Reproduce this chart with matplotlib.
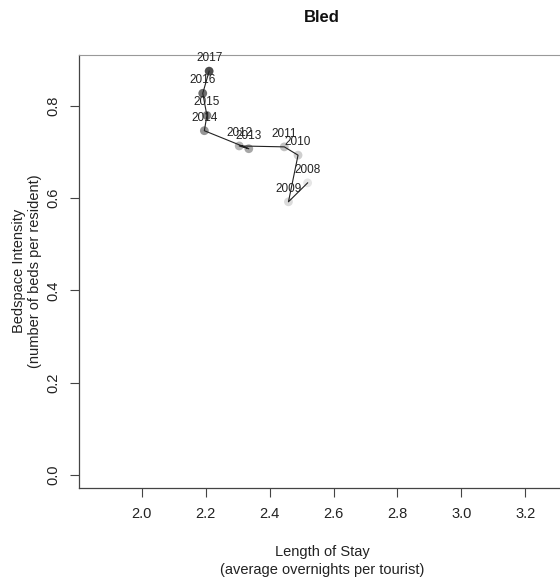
import numpy as np
import matplotlib.pyplot as plt

plt.rcParams['font.family'] = ['Liberation Sans', 'DejaVu Sans']

# Bled: length of stay vs bedspace intensity, 2008-2017
years = [2008, 2009, 2010, 2011, 2012, 2013, 2014, 2015, 2016, 2017]
stay = [2.519, 2.459, 2.489, 2.446, 2.305, 2.335, 2.196, 2.204, 2.191, 2.211]
beds = [0.633, 0.592, 0.693, 0.711, 0.713, 0.707, 0.746, 0.779, 0.827, 0.875]
# grey ramp, oldest year lightest
greys = ['#e6e6e6', '#dbdbdb', '#cfcfcf', '#c3c3c3', '#b5b5b5',
         '#a7a7a7', '#969696', '#838383', '#6c6c6c', '#4d4d4d']
xticks = [2.0, 2.2, 2.4, 2.6, 2.8, 3.0, 3.2]
yticks = [0.0, 0.2, 0.4, 0.6, 0.8]

W, H = 560, 581
fig = plt.figure(figsize=(W / 100, H / 100), dpi=100)
ax = fig.add_axes([79 / W, 1 - 488 / H, (566 - 79) / W, (488 - 55) / H])

ax.scatter(stay, beds, s=40, c=greys, edgecolors='none', zorder=2)
ax.plot(stay, beds, color='#222222', lw=0.8, zorder=3)
for yr, x, y in zip(years, stay, beds):
    ax.annotate(str(yr), (x, y), xytext=(0, 13), textcoords='offset pixels',
                ha='center', va='center', fontsize=8.5, color='#222222', zorder=4)

ax.set_xlim(1.804, 3.327)
ax.set_ylim(-0.028, 0.91)
ax.set_xticks(xticks)
ax.set_xticklabels(['%.1f' % v for v in xticks])
ax.set_yticks(yticks)
ax.set_yticklabels(['%.1f' % v for v in yticks], rotation=90, va='center')
ax.tick_params(length=6.5, width=0.8, color='#444444', labelsize=10.5, labelcolor='#222222')
ax.tick_params(axis='x', pad=7.5)
ax.tick_params(axis='y', pad=7)

for side in ['left', 'bottom']:
    ax.spines[side].set_color('#444444')
    ax.spines[side].set_linewidth(0.9)
ax.spines['top'].set_color('#999999')
ax.spines['right'].set_visible(False)

fig.text(322 / W, 1 - 18 / H, 'Bled', ha='center', va='center',
         fontsize=12, fontweight='bold', color='#111111')
fig.text(322 / W, 1 - 561 / H, 'Length of Stay\n(average overnights per tourist)',
         ha='center', va='center', fontsize=10.5, color='#222222', linespacing=1.3)
fig.text(27 / W, 1 - 271 / H, 'Bedspace Intensity\n(number of beds per resident)',
         ha='center', va='center', rotation=90, fontsize=10.5, color='#222222',
         linespacing=1.1)

fig.savefig('out.png', dpi=100, facecolor='white')
